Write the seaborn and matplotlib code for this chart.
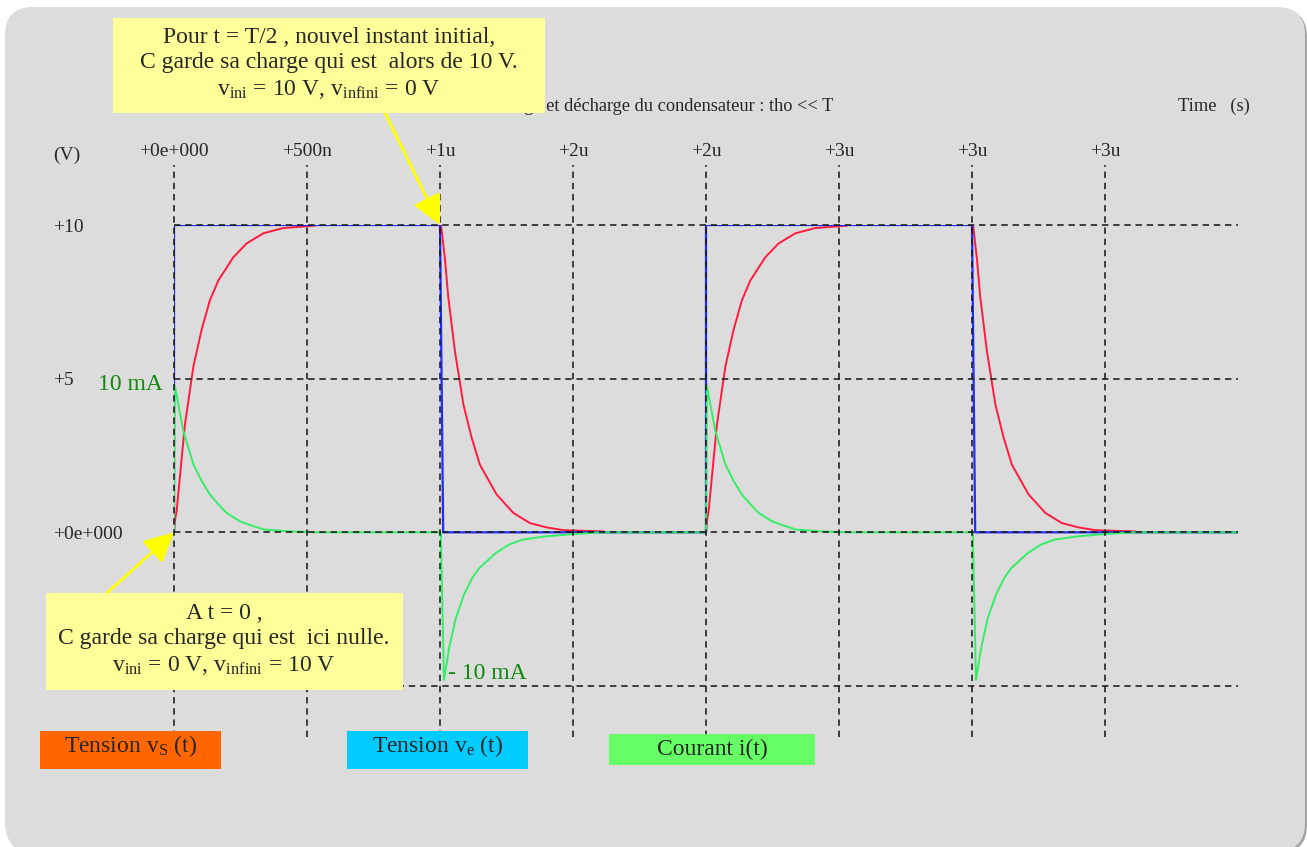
import pandas as pd
import seaborn as sns
import matplotlib.pyplot as plt
from matplotlib.patches import FancyBboxPatch, Rectangle

# times in microseconds, voltages in volts, currents in mA
VE_T = [0.0, 0.0, 1.0, 1.012, 2.0, 2.0, 3.0, 3.012, 4.0]
VE_V = [0, 10, 10, 0, 0, 10, 10, 0, 0]

# capacitor voltage (time relative to the edge)
CHARGE_T = [0, 0.004, 0.01, 0.041, 0.073, 0.104, 0.135, 0.167, 0.223, 0.273, 0.336, 0.41, 0.53]
CHARGE_V = [0, 0.4, 0.7, 3.5, 5.4, 6.6, 7.55, 8.2, 8.95, 9.4, 9.73, 9.9, 9.98]
DISCHARGE_T = [0, 0.004, 0.019, 0.031, 0.056, 0.088, 0.119, 0.15, 0.213, 0.276, 0.338, 0.401, 0.464, 0.614]
DISCHARGE_V = [10, 10, 8.86, 7.66, 5.9, 4.16, 3.08, 2.2, 1.23, 0.63, 0.3, 0.16, 0.07, 0.03]

# current
I_CHARGE_T = [0, 0.003, 0.035, 0.073, 0.104, 0.135, 0.167, 0.198, 0.248, 0.282, 0.338, 0.436, 0.534]
I_CHARGE_MA = [0, 9.55, 6.6, 4.42, 3.34, 2.46, 1.82, 1.26, 0.72, 0.5, 0.18, 0.06, 0]
I_DISCHARGE_T = [0, 0.003, 0.015, 0.034, 0.059, 0.09, 0.121, 0.147, 0.209, 0.259, 0.309, 0.397, 0.51, 0.61]
I_DISCHARGE_MA = [0, 0, -9.6, -7.56, -5.6, -4.06, -2.98, -2.34, -1.36, -0.8, -0.48, -0.26, -0.1, 0]

CHARGE_STARTS = [0.0, 2.0]
DISCHARGE_STARTS = [1.0, 3.0]
T_END = 4.0
I_SCALE = 0.5  # 10 mA drawn at +5 on the volt grid

X_TICKS = [0, 0.5, 1, 1.5, 2, 2.5, 3, 3.5]
X_LABELS = ["+0e+000", "+500n", "+1u", "+2u", "+2u", "+3u", "+3u", "+3u"]
Y_TICKS = [0, 5, 10]
Y_LABELS = ["+0e+000", "+5", "+10"]
H_LINES = [-5, 0, 5, 10]

RED = "#ff1a40"
BLUE = "#1f2bff"
GREEN = "#33ee66"
YELLOW_BOX = "#ffff99"

sns.set_theme(style="white")
plt.rcParams["font.family"] = ["Liberation Serif", "DejaVu Serif"]
plt.rcParams["mathtext.fontset"] = "custom"
plt.rcParams["mathtext.rm"] = "Liberation Serif"
plt.rcParams["mathtext.it"] = "Liberation Serif:italic"

# build the curves
vs_rows = []
for k, t0 in enumerate(CHARGE_STARTS):
    for t, v in zip(CHARGE_T, CHARGE_V):
        vs_rows.append((f"c{k}", t0 + t, v))
for k, t0 in enumerate(DISCHARGE_STARTS):
    for t, v in zip(DISCHARGE_T, DISCHARGE_V):
        vs_rows.append((f"d{k}", t0 + t, v))
vs = pd.DataFrame(vs_rows, columns=["seg", "t", "v"])

segs = [(t0, I_CHARGE_T, I_CHARGE_MA) for t0 in CHARGE_STARTS]
segs += [(t0, I_DISCHARGE_T, I_DISCHARGE_MA) for t0 in DISCHARGE_STARTS]
segs.sort(key=lambda s: s[0])
i_rows = []
for t0, ts, vals in segs:
    for t, i in zip(ts, vals):
        i_rows.append((t0 + t, i))
i_rows.append((T_END, 0))
cur = pd.DataFrame(i_rows, columns=["t", "i"])
cur["y"] = cur["i"] * I_SCALE

ve = pd.DataFrame({"t": VE_T, "v": VE_V})

W, H = 1307, 847
fig = plt.figure(figsize=(W / 100, H / 100), dpi=100, facecolor="white")


def px(x, y):
    """pixel position (from top left) -> inches for dpi_scale_trans"""
    return x / 100, (H - y) / 100


# grey rounded panel behind everything
fig.add_artist(FancyBboxPatch((0.07, -0.06), 13.0, 8.44,
                              boxstyle="round,pad=0,rounding_size=0.28",
                              transform=fig.dpi_scale_trans, fc="#a5a5a5", ec="none", zorder=-3))
fig.add_artist(FancyBboxPatch((0.05, -0.04), 13.0, 8.44,
                              boxstyle="round,pad=0,rounding_size=0.28",
                              transform=fig.dpi_scale_trans, fc="#dcdcdc", ec="none", zorder=-2))

ax = fig.add_axes([174 / W, 1 - 686 / H, (1238 - 174) / W, (686 - 225) / H])
ax.patch.set_alpha(0)
ax.set_xlim(0, 4)
ax.set_ylim(-5, 10)
sns.despine(ax=ax, left=True, bottom=True)

sns.lineplot(data=vs, x="t", y="v", units="seg", estimator=None, sort=False,
             color=RED, lw=1.4, ax=ax, zorder=2)
sns.lineplot(data=ve, x="t", y="v", estimator=None, sort=False,
             color=BLUE, lw=1.6, ax=ax, zorder=3)
sns.lineplot(data=cur, x="t", y="y", estimator=None, sort=False,
             color=GREEN, lw=1.4, ax=ax, zorder=4)

# dashed grid, drawn over the curves
dash = dict(colors="#1a1a1a", linestyles=(0, (4, 3)), lw=1.15, zorder=5, clip_on=False)
ax.vlines(X_TICKS, -6.65, 11.95, **dash)
ax.hlines(H_LINES, 0, T_END, **dash)

ax.set_xticks(X_TICKS, X_LABELS)
ax.set_yticks(Y_TICKS, Y_LABELS)
ax.tick_params(axis="x", top=True, labeltop=True, bottom=False, labelbottom=False,
               length=0, pad=47, labelsize=14)
ax.tick_params(axis="y", left=True, labelleft=True, length=0, pad=87, labelsize=14)
for lab in ax.get_yticklabels():
    lab.set_horizontalalignment("left")
ax.set_xlabel("")
ax.set_ylabel("")

tr = fig.dpi_scale_trans
fig.text(*px(661, 106), "Charge et décharge du condensateur : tho << T", transform=tr,
         ha="center", va="center", fontsize=13.2, zorder=1)
fig.text(*px(1178, 106), "Time   (s)", transform=tr, ha="left", va="center", fontsize=13.3)
fig.text(*px(53, 155), "(V)", transform=tr, ha="left", va="center", fontsize=14)

fig.text(*px(163, 384), "10 mA", transform=tr, ha="right", va="center",
         fontsize=17, color="#0e8a0e")
fig.text(*px(448, 673), "- 10 mA", transform=tr, ha="left", va="center",
         fontsize=17, color="#0e8a0e")

# yellow call-outs
fig.add_artist(Rectangle(px(113, 113), 4.32, 0.95, transform=tr, fc=YELLOW_BOX, ec="none", zorder=2))
fig.text(*px(329, 64), "Pour t = T/2 , nouvel instant initial,\nC garde sa charge qui est  alors de 10 V.\n"
         "v$_{\\mathrm{ini}}$ = 10 V, v$_{\\mathrm{infini}}$ = 0 V",
         transform=tr, ha="center", va="center", fontsize=17, linespacing=1.3, zorder=3)
fig.add_artist(Rectangle(px(46, 690), 3.57, 0.97, transform=tr, fc=YELLOW_BOX, ec="none", zorder=2))
fig.text(*px(224, 640), "A t = 0 ,\nC garde sa charge qui est  ici nulle.\n"
         "v$_{\\mathrm{ini}}$ = 0 V, v$_{\\mathrm{infini}}$ = 10 V",
         transform=tr, ha="center", va="center", fontsize=17, linespacing=1.3, zorder=3)

arrow = dict(arrowstyle="-|>,head_length=0.9,head_width=0.45", color="#ffff00", lw=2,
             shrinkA=0, shrinkB=0, mutation_scale=20)
ax.annotate("", xy=(1.0, 10.0), xytext=px(385, 113), textcoords=tr,
            arrowprops=arrow, annotation_clip=False, zorder=6)
ax.annotate("", xy=(0.0, 0.0), xytext=px(97, 602), textcoords=tr,
            arrowprops=arrow, annotation_clip=False, zorder=6)

# colour keys
keys = [(40, 731, 181, 38, "#ff6600", "Tension v$_{\\mathrm{S}}$ (t)", 746),
        (347, 731, 181, 38, "#00ccff", "Tension v$_{\\mathrm{e}}$ (t)", 746),
        (609, 734, 206, 31, "#66ff66", "Courant i(t)", 749)]
for x0, y0, w, h, c, label, ty in keys:
    fig.add_artist(Rectangle(px(x0, y0 + h), w / 100, h / 100, transform=tr, fc=c, ec="none", zorder=2))
    fig.text(*px(x0 + w / 2, ty), label, transform=tr, ha="center", va="center",
             fontsize=17, zorder=3)

fig.savefig("out.png", dpi=100)
